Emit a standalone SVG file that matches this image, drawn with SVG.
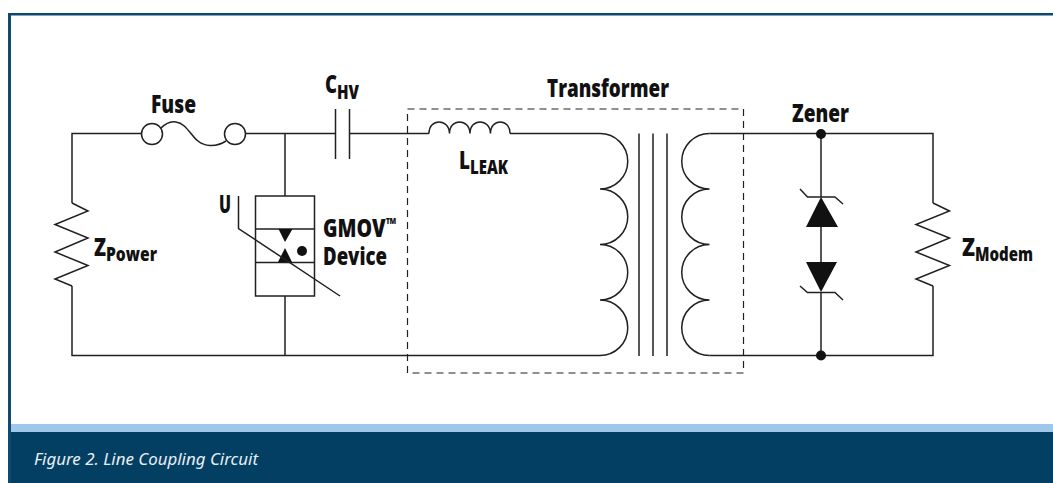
<svg xmlns="http://www.w3.org/2000/svg" width="1053" height="483" viewBox="0 0 1053 483">
<style>
.w{fill:none;stroke:#231f20;stroke-width:1.5}
.t{font-family:"Open Sans","Liberation Sans",sans-serif;font-weight:800;fill:#111}
.m{font-size:25px}
.l{font-size:23px}
.s{font-size:19px}
.f{fill:#111;stroke:none}
</style>
<rect width="1053" height="483" fill="#fff"/>
<g id="frame">
<rect x="8" y="13" width="1045" height="2.500" fill="#0d4a6e"/>
<rect x="8" y="13" width="3" height="470" fill="#0d4a6e"/>
<rect x="11" y="424" width="1042" height="8" fill="#9fc7e9"/>
<rect x="11" y="432" width="1042" height="51" fill="#033f63"/>
<text x="34" y="465" font-family="'Noto Sans','Liberation Sans',sans-serif" font-style="italic" font-size="16" fill="#e8eef3" textLength="224" lengthAdjust="spacingAndGlyphs">Figure 2. Line Coupling Circuit</text>
</g>
<g id="connectors">
<path class="w" d="M142 133.500H72V203M72 286V355.500H600M245 133.500H335.500M349.500 133.500H429M510 133.500H600M285 133.500V196M285 296V355.500M709.500 133.500H933V203M933 286V355.500H709.500M821 133.500V197M821 227V262M821 292V355.500"/>
</g>
<g id="z-power"><path class="w" d="M72 203L88 211L55 224.500L88 238L55 252L88 265.500L55 279L72 286"/>
<text class="t m" x="94" y="255.500" textLength="12" lengthAdjust="spacingAndGlyphs">Z</text><text class="t s" x="106" y="260.500" textLength="51" lengthAdjust="spacingAndGlyphs">Power</text></g>
<g id="fuse"><circle class="w" cx="152" cy="134" r="10.500"/><circle class="w" cx="235" cy="134" r="10.500"/>
<path class="w" d="M161 128C166 123 172 121 176 122C186 123 191 136 198 141C204 146 215 148 226 141"/>
<text class="t m" x="151" y="112.500" textLength="45" lengthAdjust="spacingAndGlyphs">Fuse</text></g>
<g id="c-hv"><path class="w" d="M335.500 109V159M349.500 109V159"/>
<text class="t m" x="325" y="93" textLength="12" lengthAdjust="spacingAndGlyphs">C</text><text class="t s" x="337" y="99" textLength="22" lengthAdjust="spacingAndGlyphs">HV</text></g>
<g id="gmov"><rect class="w" x="255.500" y="196" width="59" height="100"/><path class="w" d="M255.500 229H314.500M255.500 262.500H314.500"/>
<path class="f" d="M278.500 229H292.500L285 242ZM285 248L292 262H278Z"/><circle class="f" cx="302" cy="251" r="5"/>
<path class="w" d="M238.500 196V228.500L340 296" stroke-width="1.200"/>
<text class="t m" x="219" y="213" textLength="12" lengthAdjust="spacingAndGlyphs">U</text>
<text class="t m" x="323" y="236.500" textLength="73" lengthAdjust="spacingAndGlyphs">GMOV<tspan font-size="17" dy="-7">™</tspan></text>
<text class="t m" x="323" y="265" textLength="64" lengthAdjust="spacingAndGlyphs">Device</text></g>
<g id="transformer"><rect x="407.500" y="109" width="336" height="264" fill="none" stroke="#231f20" stroke-width="1.200" stroke-dasharray="7 5"/>
<path class="w" d="M429 133.500C429 118 449 118 449.500 133.500C449.500 118 469.500 118 470 133.500C470 118 490 118 490.500 133.500C490.500 118 510 118 510 133.500"/>
<path class="w" d="M600 133.500A27.750 27.750 0 0 1 600 189A27.750 27.750 0 0 1 600 244.500A27.750 27.750 0 0 1 600 300A27.750 27.750 0 0 1 600 355.500"/>
<path class="w" d="M709.500 133.500A27.750 27.750 0 0 0 709.500 189A27.750 27.750 0 0 0 709.500 244.500A27.750 27.750 0 0 0 709.500 300A27.750 27.750 0 0 0 709.500 355.500"/>
<path class="w" d="M639 133.500V356M653 133.500V356M667 133.500V356"/>
<text class="t m" x="547" y="96.500" textLength="122" lengthAdjust="spacingAndGlyphs">Transformer</text>
<text class="t m" x="459" y="169" textLength="11" lengthAdjust="spacingAndGlyphs">L</text><text class="t s" x="470" y="174" textLength="38" lengthAdjust="spacingAndGlyphs">LEAK</text></g>
<g id="zener"><circle class="f" cx="821" cy="134" r="5"/><circle class="f" cx="821" cy="355.500" r="5"/>
<path class="f" d="M821 197L838 227H806ZM806 262H837L821 292Z"/>
<path class="w" d="M800 189L807.500 197H835L843 204M800 286L807.500 292.500H835L843 300"/>
<text class="t m" x="792" y="121.500" textLength="57" lengthAdjust="spacingAndGlyphs">Zener</text></g>
<g id="z-modem"><path class="w" d="M933 203L949.500 211L916 224.500L949.500 238L916 252L949.500 265.500L916 279L933 286"/>
<text class="t m" x="962" y="255.500" textLength="13" lengthAdjust="spacingAndGlyphs">Z</text><text class="t s" x="975" y="261" textLength="58" lengthAdjust="spacingAndGlyphs">Modem</text></g>
</svg>
